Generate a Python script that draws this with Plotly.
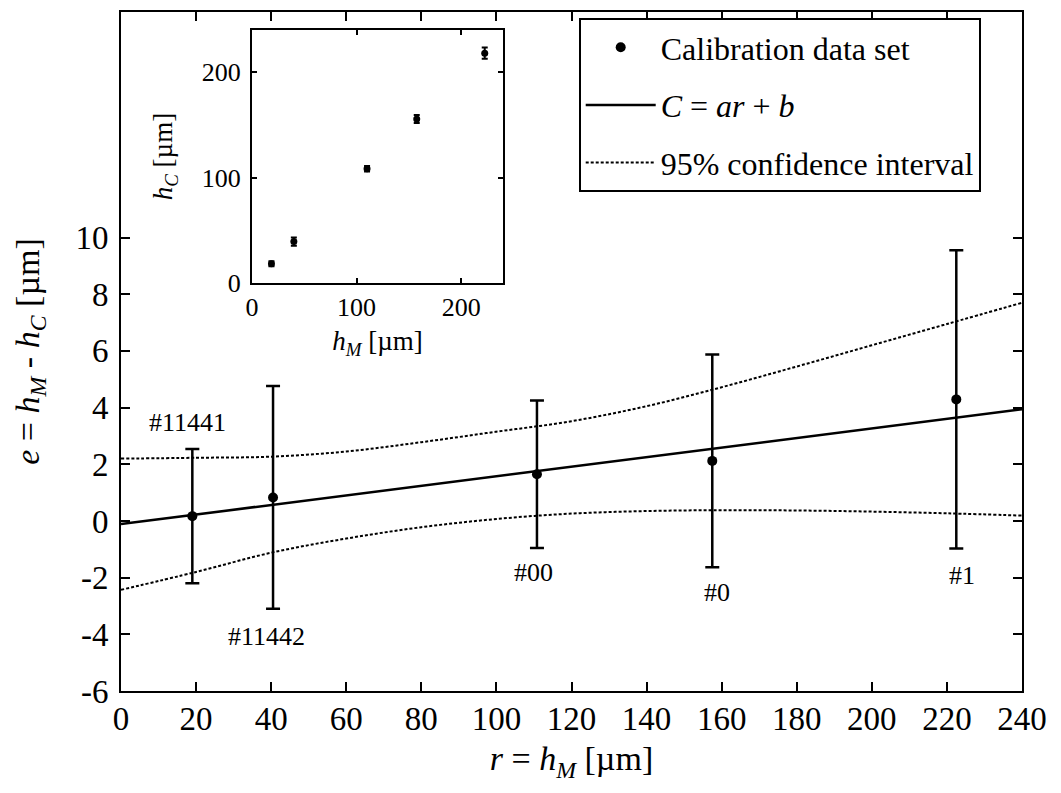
import plotly.graph_objects as go

# ---- data ----
r_vals = [19.0, 40.5, 110.8, 157.5, 222.5]          # r = h_M [µm]
e_vals = [0.17, 0.83, 1.65, 2.12, 4.29]             # e = h_M - h_C [µm]
e_err = [2.37, 3.93, 2.60, 3.75, 5.26]
labels = ["#11441", "#11442", "#00", "#0", "#1"]

fit_x = [0, 240]
fit_y = [-0.11, 3.94]

ci_x = [0, 20, 40, 60, 80, 100, 120, 140, 160, 180, 200, 220, 240]
ci_upper = [2.20, 2.23, 2.27, 2.45, 2.78, 3.15, 3.52, 4.05, 4.72, 5.45, 6.20, 6.95, 7.70]
ci_lower = [-2.43, -1.80, -1.12, -0.62, -0.22, 0.07, 0.26, 0.35, 0.38, 0.37, 0.33, 0.27, 0.19]

inset_hM = [18.6, 40.0, 110.0, 157.5, 222.5]
inset_hC = [18.5, 39.5, 108.5, 155.5, 218.0]
inset_err = [2.4, 3.9, 2.6, 3.8, 5.3]

x_ticks = list(range(0, 241, 20))
y_ticks = list(range(-6, 11, 2))
y_ticktext = [str(v) for v in y_ticks]
inset_ticks = [0, 100, 200]

FONT = "Times New Roman, Liberation Serif, serif"

fig = go.Figure()

fig.add_trace(go.Scatter(
    x=r_vals, y=e_vals, mode="markers",
    marker=dict(color="black", size=10),
    error_y=dict(type="data", array=e_err, visible=True, color="black",
                 thickness=2.5, width=7),
    name="Calibration data set", legendgroup="a"))

fig.add_trace(go.Scatter(
    x=fit_x, y=fit_y, mode="lines",
    line=dict(color="black", width=2.5),
    name="<i>C</i> = <i>ar</i> + <i>b</i>", legendgroup="b"))

fig.add_trace(go.Scatter(
    x=ci_x, y=ci_upper, mode="lines", line_shape="spline",
    line=dict(color="black", width=2, dash="3px,2px"),
    name="95% confidence interval", legendgroup="c"))
fig.add_trace(go.Scatter(
    x=ci_x, y=ci_lower, mode="lines", line_shape="spline",
    line=dict(color="black", width=2, dash="3px,2px"),
    showlegend=False, legendgroup="c"))

# inset
fig.add_trace(go.Scatter(
    x=inset_hM, y=inset_hC, mode="markers", xaxis="x2", yaxis="y2",
    marker=dict(color="black", size=7),
    error_y=dict(type="data", array=inset_err, visible=True, color="black",
                 thickness=2, width=3),
    showlegend=False))

ann_pos = [(17.8, 3.46), (38.7, -4.07), (110.0, -1.83), (158.7, -2.52), (224.0, -1.92)]
annotations = [
    dict(x=px, y=py, xref="x", yref="y", text=t, showarrow=False,
         font=dict(family=FONT, size=26, color="black"))
    for t, (px, py) in zip(labels, ann_pos)
]

axis_common = dict(showgrid=False, zeroline=False, showline=True, linecolor="black",
                   linewidth=2, mirror="ticks", ticks="inside", tickcolor="black",
                   tickwidth=2)

fig.update_layout(
    width=1061, height=793,
    margin=dict(l=113, r=47, t=2, b=110),
    paper_bgcolor="white", plot_bgcolor="white",
    font=dict(family=FONT, color="black"),
    xaxis=dict(**axis_common, range=[0, 240], tickvals=x_ticks, ticklen=9,
               tickfont=dict(size=33, family=FONT), ticklabelstandoff=-3,
               title=dict(text="<i>r</i> = <i>h</i><sub><i>M</i></sub> [µm]",
                          font=dict(size=34, family=FONT), standoff=11)),
    yaxis=dict(**axis_common, range=[-6, 17.96], tickvals=y_ticks, ticktext=y_ticktext,
               ticklen=9, tickfont=dict(size=33, family=FONT), ticklabelstandoff=4,
               title=dict(text="<i>e</i> = <i>h</i><sub><i>M</i></sub> - <i>h</i><sub><i>C</i></sub> [µm]",
                          font=dict(size=34, family=FONT), standoff=26)),
    xaxis2=dict(**axis_common, domain=[0.1454, 0.424], anchor="y2", range=[0, 240],
                tickvals=inset_ticks, ticklen=5, tickfont=dict(size=26, family=FONT),
                title=dict(text="<i>h</i><sub><i>M</i></sub> [µm]",
                           font=dict(size=27, family=FONT), standoff=10)),
    yaxis2=dict(**axis_common, domain=[0.6006, 0.9736], anchor="x2", range=[0, 240],
                tickvals=inset_ticks, ticklen=5, tickfont=dict(size=26, family=FONT),
                ticklabelstandoff=4,
                title=dict(text="<i>h</i><sub><i>C</i></sub> [µm]",
                           font=dict(size=27, family=FONT), standoff=21)),
    legend=dict(x=0.508, y=0.9912, xanchor="left", yanchor="top",
                bgcolor="white", bordercolor="black", borderwidth=2,
                font=dict(size=32, family=FONT), itemwidth=70,
                entrywidth=410, entrywidthmode="pixels",
                tracegroupgap=13, traceorder="grouped"),
    annotations=annotations,
)

fig.write_html("out.html")
